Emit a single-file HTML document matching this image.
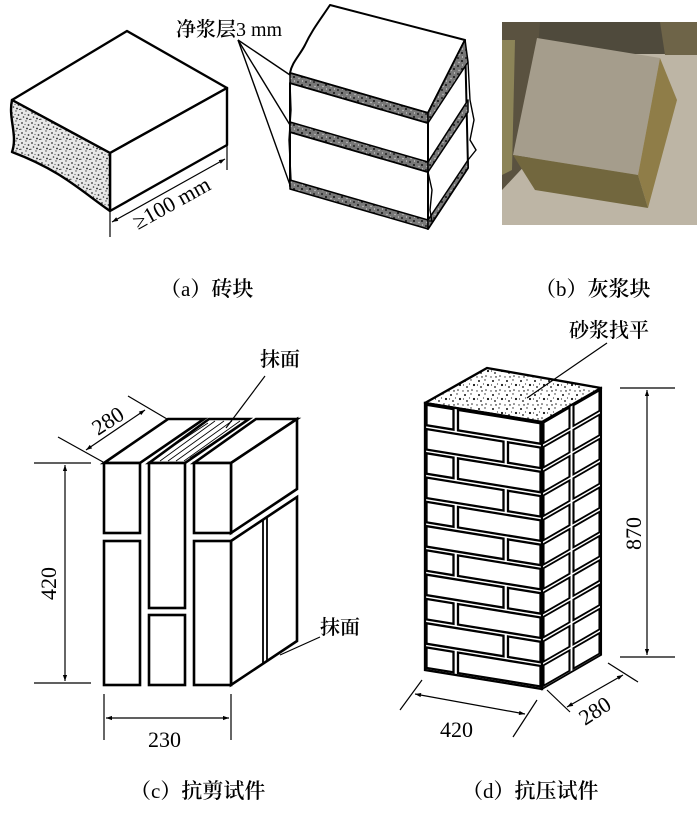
<!DOCTYPE html>
<html><head><meta charset="utf-8"><style>
html,body{margin:0;padding:0;background:#fff;}
svg{display:block;}
text{font-family:"Liberation Serif","Noto Serif CJK SC",serif;fill:#000;}
.cj{font-family:"Liberation Serif","Noto Serif CJK SC",serif;font-weight:600;}
.n{font-weight:normal;}
</style></head><body>
<svg width="700" height="813" viewBox="0 0 700 813" xmlns="http://www.w3.org/2000/svg">
<defs>
<pattern id="st" width="10" height="10" patternUnits="userSpaceOnUse">
<rect width="10" height="10" fill="#e8e8e8"/>
<circle cx="2" cy="3" r="0.9" fill="#333"/><circle cx="6" cy="1" r="0.7" fill="#444"/>
<circle cx="8.5" cy="5" r="0.9" fill="#333"/><circle cx="3.5" cy="7" r="0.8" fill="#333"/>
<circle cx="7" cy="8.5" r="0.9" fill="#222"/><circle cx="9.5" cy="9.5" r="0.6" fill="#444"/>
<circle cx="5" cy="4.5" r="0.6" fill="#555"/><circle cx="0.8" cy="9.3" r="0.7" fill="#333"/>
</pattern>
<pattern id="stb" width="8" height="8" patternUnits="userSpaceOnUse">
<rect width="8" height="8" fill="#777"/>
<circle cx="2" cy="2" r="1" fill="#222"/><circle cx="6" cy="5" r="1" fill="#111"/><circle cx="3" cy="6.5" r="0.7" fill="#ccc"/><circle cx="6.5" cy="1" r="0.6" fill="#ddd"/>
</pattern>
<pattern id="st2" width="14" height="14" patternUnits="userSpaceOnUse">
<rect width="14" height="14" fill="#fff"/>
<circle cx="3" cy="3" r="1" fill="#111"/><circle cx="9" cy="2" r="0.7" fill="#222"/>
<circle cx="12" cy="7" r="1.1" fill="#111"/><circle cx="5" cy="9" r="0.9" fill="#111"/>
<circle cx="10" cy="12" r="0.8" fill="#222"/><circle cx="1" cy="13" r="0.7" fill="#333"/>
<circle cx="7.5" cy="6" r="0.6" fill="#333"/><rect x="5" y="12.5" width="2" height="0.9" fill="#111"/>
<circle cx="1.5" cy="7" r="0.6" fill="#222"/>
</pattern>
<marker id="ar" viewBox="0 0 10 10" refX="10" refY="5" markerWidth="10" markerHeight="6" orient="auto-start-reverse" markerUnits="userSpaceOnUse"><path d="M0,1.5 L10,5 L0,8.5 z" fill="#000"/></marker>
</defs>

<!-- (a) brick -->
<g stroke="#000" stroke-width="2.4" fill="#fff" stroke-linejoin="round">
<polygon points="12,100 127,31 227,88 110,153"/>
<polygon points="110,153 227,88 227,145 110,211"/>
<path d="M12,100 L110,153 L110,211 C80,190 60,170 12,152 C18,135 8,118 12,100 z" fill="url(#st)"/>
</g>
<g stroke="#000" stroke-width="1.2">
<line x1="110" y1="211" x2="110" y2="237"/><line x1="227" y1="145" x2="227" y2="170"/>
<line x1="112" y1="222" x2="225" y2="159" marker-start="url(#ar)" marker-end="url(#ar)"/>
</g>
<text x="0" y="0" font-size="22" transform="translate(138,230) rotate(-29)">≥100 mm</text>

<!-- (b) mortar layers -->
<g stroke="#000" stroke-width="2" stroke-linejoin="round">
<path d="M290,73 L428,113 L465,40 L330,5 C320,20 312,30 305,45 C300,55 292,62 290,73 z" fill="#fff"/>
<polygon points="428,113 465,40 468,168 428,229" fill="#fff"/>
<polygon points="290,83 428,123 428,175 290,134" fill="#fff"/>
<polygon points="290,132 428,172 428,226 290,186" fill="#fff"/>
<polygon points="290,73 428,113 428,123 290,83" fill="url(#stb)" stroke-width="1.5"/>
<polygon points="428,113 465,40 468,62 428,123" fill="url(#stb)" stroke-width="1.5"/>
<polygon points="290,122 428,162 428,172 290,132" fill="url(#stb)" stroke-width="1.5"/>
<polygon points="428,162 468,100 468,112 428,172" fill="url(#stb)" stroke-width="1.5"/>
<polygon points="290,180 428,220 428,229 290,189" fill="url(#stb)" stroke-width="1.5"/>
<polygon points="428,220 468,160 468,168 428,229" fill="url(#stb)" stroke-width="1.5"/>
</g>
<g stroke="#000" stroke-width="1.4" fill="none">
<path d="M290,83 L291,110 L289,140 L291,180"/>
<path d="M468,62 L470,100 L474,120 L470,140 L476,150 L468,160"/>
<path d="M428,172 L432,190 L430,210 L432,222"/>
<line x1="238" y1="40" x2="290" y2="75"/><line x1="238" y1="40" x2="290" y2="125"/><line x1="238" y1="40" x2="290" y2="185"/>
</g>
<text x="176" y="36" font-size="20" class="cj">净浆层<tspan class="n">3 mm</tspan></text>

<!-- photo -->
<rect x="502" y="22" width="195" height="203" fill="#bdb5a5"/>
<rect x="502" y="22" width="195" height="32" fill="#4f4a3c"/>
<polygon points="502,22 540,22 530,160 502,190" fill="#5a5240"/>
<polygon points="502,40 515,40 512,170 502,175" fill="#8c8458"/>
<polygon points="660,22 697,22 697,55 665,55" fill="#6e6448"/>
<polygon points="537,38 660,58 638,175 513,155" fill="#a59d8c"/>
<polygon points="660,58 677,100 648,208 638,175" fill="#8f7d48"/>
<polygon points="513,155 638,175 648,208 535,190" fill="#72673e"/>

<text x="160" y="296" font-size="21" class="cj">（<tspan class="n">a</tspan>）砖块</text>
<text x="535" y="296" font-size="21" class="cj">（<tspan class="n">b</tspan>）灰浆块</text>

<!-- (c) shear specimen -->
<g stroke="#000" stroke-width="2.6" fill="#fff" stroke-linejoin="miter">
<polygon points="104,463 140,463 204,419 168,419"/>
<polygon points="149,463 185,463 249,419 209,419"/>
<polygon points="194,463 231,463 297,419 256,419"/>
<polygon points="231,463 297,419 297,489 231,533"/>
<polygon points="231,541 297,497 297,641 231,685"/>
<rect x="104" y="463" width="36" height="70"/>
<rect x="104" y="541" width="36" height="144"/>
<rect x="149" y="463" width="36" height="145"/>
<rect x="149" y="615" width="36" height="70"/>
<rect x="194" y="463" width="37" height="70"/>
<rect x="194" y="541" width="37" height="144"/>
</g>
<g stroke="#000" stroke-width="1.8">
<line x1="263" y1="519" x2="263" y2="664"/><line x1="267" y1="517" x2="267" y2="661"/>
</g>
<g stroke="#000" stroke-width="0.8">
<line x1="160" y1="461" x2="215" y2="421"/><line x1="168" y1="461" x2="224" y2="421"/>
<line x1="176" y1="461" x2="232" y2="421"/><line x1="184" y1="461" x2="240" y2="421"/>
<line x1="155" y1="458" x2="208" y2="423"/><line x1="190" y1="458" x2="246" y2="421"/>
</g>
<g stroke="#000" stroke-width="1.2" fill="none">
<line x1="58" y1="437" x2="103" y2="462"/><line x1="128" y1="396" x2="167" y2="419"/>
<line x1="86" y1="450" x2="145" y2="410" marker-start="url(#ar)" marker-end="url(#ar)"/>
<line x1="34" y1="463" x2="91" y2="463"/><line x1="34" y1="683" x2="91" y2="683"/>
<line x1="65" y1="465" x2="65" y2="681" marker-start="url(#ar)" marker-end="url(#ar)"/>
<line x1="104" y1="694" x2="104" y2="740"/><line x1="231" y1="694" x2="231" y2="740"/>
<line x1="106" y1="718" x2="229" y2="718" marker-start="url(#ar)" marker-end="url(#ar)"/>
<line x1="265" y1="376" x2="226" y2="428"/>
<line x1="320" y1="637" x2="280" y2="655"/>
</g>
<text font-size="22" transform="translate(98,436) rotate(-33)">280</text>
<text font-size="22" transform="translate(56,600) rotate(-90)">420</text>
<text x="148" y="747" font-size="22">230</text>
<text x="260" y="366" font-size="20" class="cj">抹面</text>
<text x="320" y="634" font-size="20" class="cj">抹面</text>

<!-- (d) compression specimen -->
<polygon points="425,403 487,368 601,388 542,422" fill="url(#st2)" stroke="#000" stroke-width="2.4" stroke-linejoin="round"/>
<g transform="translate(425,403) skewY(9.22)" stroke="#000" stroke-width="2.3" fill="#fff">
<rect x="0" y="0" width="117" height="267"/>
<rect x="1.5" y="1.5" width="27" height="20.5"/><rect x="33" y="1.5" width="82.5" height="20.5"/>
<rect x="1.5" y="25.8" width="77" height="20.5"/><rect x="83" y="25.8" width="32.5" height="20.5"/>
<rect x="1.5" y="50.0" width="27" height="20.5"/><rect x="33" y="50.0" width="82.5" height="20.5"/>
<rect x="1.5" y="74.3" width="77" height="20.5"/><rect x="83" y="74.3" width="32.5" height="20.5"/>
<rect x="1.5" y="98.6" width="27" height="20.5"/><rect x="33" y="98.6" width="82.5" height="20.5"/>
<rect x="1.5" y="122.9" width="77" height="20.5"/><rect x="83" y="122.9" width="32.5" height="20.5"/>
<rect x="1.5" y="147.1" width="27" height="20.5"/><rect x="33" y="147.1" width="82.5" height="20.5"/>
<rect x="1.5" y="171.4" width="77" height="20.5"/><rect x="83" y="171.4" width="32.5" height="20.5"/>
<rect x="1.5" y="195.7" width="27" height="20.5"/><rect x="33" y="195.7" width="82.5" height="20.5"/>
<rect x="1.5" y="220.0" width="77" height="20.5"/><rect x="83" y="220.0" width="32.5" height="20.5"/>
<rect x="1.5" y="244.2" width="27" height="20.5"/><rect x="33" y="244.2" width="82.5" height="20.5"/>
</g>
<g transform="translate(542,422) skewY(-29.96)" stroke="#000" stroke-width="2.1" fill="#fff">
<rect x="0" y="0" width="59" height="267"/>
<rect x="1.5" y="1.5" width="26" height="20.5"/><rect x="31.5" y="1.5" width="26" height="20.5"/>
<rect x="1.5" y="25.8" width="26" height="20.5"/><rect x="31.5" y="25.8" width="26" height="20.5"/>
<rect x="1.5" y="50.0" width="26" height="20.5"/><rect x="31.5" y="50.0" width="26" height="20.5"/>
<rect x="1.5" y="74.3" width="26" height="20.5"/><rect x="31.5" y="74.3" width="26" height="20.5"/>
<rect x="1.5" y="98.6" width="26" height="20.5"/><rect x="31.5" y="98.6" width="26" height="20.5"/>
<rect x="1.5" y="122.9" width="26" height="20.5"/><rect x="31.5" y="122.9" width="26" height="20.5"/>
<rect x="1.5" y="147.1" width="26" height="20.5"/><rect x="31.5" y="147.1" width="26" height="20.5"/>
<rect x="1.5" y="171.4" width="26" height="20.5"/><rect x="31.5" y="171.4" width="26" height="20.5"/>
<rect x="1.5" y="195.7" width="26" height="20.5"/><rect x="31.5" y="195.7" width="26" height="20.5"/>
<rect x="1.5" y="220.0" width="26" height="20.5"/><rect x="31.5" y="220.0" width="26" height="20.5"/>
<rect x="1.5" y="244.2" width="26" height="20.5"/><rect x="31.5" y="244.2" width="26" height="20.5"/>
</g>
<g stroke="#000" stroke-width="1.2" fill="none">
<line x1="607" y1="343" x2="527" y2="398"/>
<line x1="620" y1="388" x2="675" y2="388"/><line x1="620" y1="657" x2="675" y2="657"/>
<line x1="647" y1="390" x2="647" y2="655" marker-start="url(#ar)" marker-end="url(#ar)"/>
<line x1="422" y1="680" x2="400" y2="710"/><line x1="537" y1="700" x2="513" y2="737"/>
<line x1="415" y1="694" x2="525" y2="714" marker-start="url(#ar)" marker-end="url(#ar)"/>
<line x1="547" y1="690" x2="570" y2="712"/><line x1="608" y1="663" x2="638" y2="682"/>
<line x1="567" y1="707" x2="623" y2="675" marker-start="url(#ar)" marker-end="url(#ar)"/>
</g>
<text x="569" y="337" font-size="20" class="cj">砂浆找平</text>
<text font-size="22" transform="translate(641,550) rotate(-90)">870</text>
<text x="440" y="737" font-size="22">420</text>
<text font-size="22" transform="translate(585,726) rotate(-33)">280</text>

<text x="130" y="798" font-size="21" class="cj">（<tspan class="n">c</tspan>）抗剪试件</text>
<text x="462" y="798" font-size="21" class="cj">（<tspan class="n">d</tspan>）抗压试件</text>
</svg>
</body></html>
